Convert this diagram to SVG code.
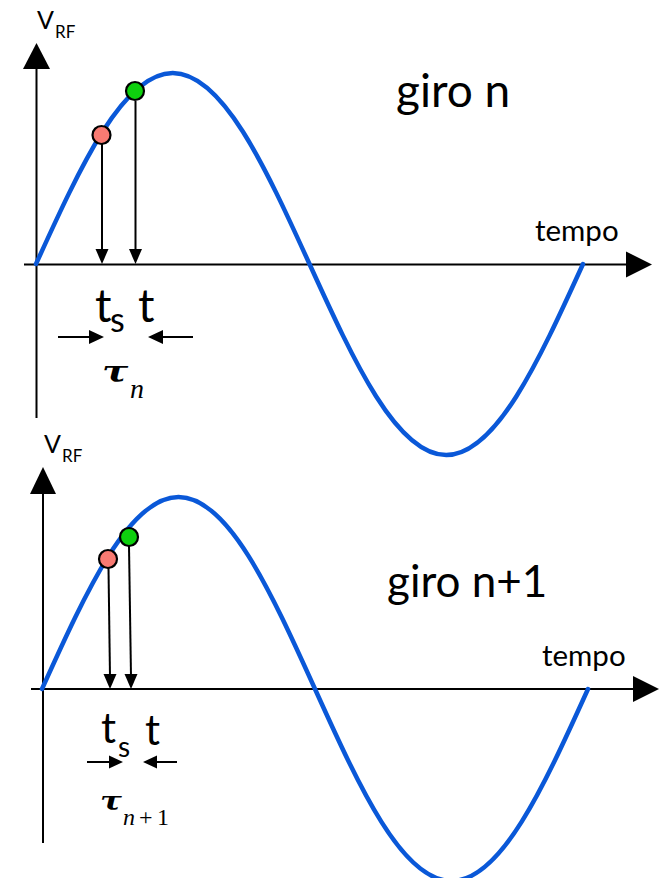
<svg xmlns="http://www.w3.org/2000/svg" width="659" height="878" viewBox="0 0 659 878">
<style>
.ax{stroke:#000;stroke-width:2;fill:none}
.ah{fill:#000}
.wave{stroke:#0a58d8;stroke-width:4.5;fill:none;stroke-linecap:round}
.dr{fill:#f87a72;stroke:#000;stroke-width:2.2}
.dg{fill:#0ed00e;stroke:#000;stroke-width:2.2}
.sans{font-family:Lato,"Open Sans","Liberation Sans",sans-serif;fill:#000}
.tau{font-family:"DejaVu Serif","Liberation Serif",serif;font-style:italic;font-weight:bold;fill:#000}
.mi{font-family:"Liberation Serif","Times New Roman",serif;font-style:italic;fill:#000}
.mr{font-family:"Liberation Serif","Times New Roman",serif;fill:#000}
</style>
<g id="connectors">
<line class="ax" x1="36.5" y1="418" x2="36.5" y2="66"/>
<polygon class="ah" points="36.5,43 23,69 50,69"/>
<line class="ax" x1="24" y1="264.5" x2="628" y2="264.5"/>
<polygon class="ah" points="652,264.5 626,251.5 626,277.5"/>
<line class="ax" x1="102" y1="144" x2="102" y2="252"/>
<polygon class="ah" points="102,264 95.5,249 108.5,249"/>
<line class="ax" x1="135.5" y1="101" x2="135.5" y2="252"/>
<polygon class="ah" points="135.5,264 129,249 142,249"/>
<line class="ax" x1="58" y1="337" x2="92" y2="337"/>
<polygon class="ah" points="104,337 89,330 89,344"/>
<line class="ax" x1="160" y1="337" x2="193" y2="337"/>
<polygon class="ah" points="148,337 163,330 163,344"/>
<line class="ax" x1="43" y1="843" x2="43" y2="490"/>
<polygon class="ah" points="43,467 30,494 56,494"/>
<line class="ax" x1="31" y1="689" x2="634" y2="689"/>
<polygon class="ah" points="659,689 633,676 633,702"/>
<line class="ax" x1="108.5" y1="568" x2="110" y2="677"/>
<polygon class="ah" points="110,689 103.5,674 116.5,674"/>
<line class="ax" x1="129" y1="546" x2="131" y2="677"/>
<polygon class="ah" points="131,689 124.5,674 137.5,674"/>
<line class="ax" x1="87" y1="762" x2="112" y2="762"/>
<polygon class="ah" points="123,762 109,755.5 109,768.5"/>
<line class="ax" x1="154" y1="762" x2="177" y2="762"/>
<polygon class="ah" points="143,762 157,755.5 157,768.5"/>
</g>
<g id="wave-top">
<path class="wave" d="M36,264 C80.6,166.15 123.26,73 172.75,73 S264.9,166.15 309.5,264 S396.76,455 446.25,455 S538.4,361.85 583,264"/>
</g>
<g id="wave-bottom">
<path class="wave" d="M42,689 C86.52,590.64 129.1,497 178.5,497 S270.48,590.64 315,689 S402.1,881 451.5,881 S543.48,787.36 588,689"/>
</g>
<g id="dots-top">
<circle class="dr" cx="101.5" cy="135" r="9"/>
<circle class="dg" cx="135" cy="91" r="9"/>
</g>
<g id="dots-bottom">
<circle class="dr" cx="108" cy="559" r="9"/>
<circle class="dg" cx="129" cy="537" r="9"/>
</g>
<g id="labels-top">
<text class="sans" x="37" y="29" font-size="25">V</text>
<text class="sans" x="55" y="38" font-size="17">RF</text>
<text class="sans" x="535" y="241" font-size="29.5">tempo</text>
<text class="sans" x="396" y="107" font-size="46">giro n</text>
<text class="sans" x="95" y="322" font-size="46">t</text>
<text class="sans" x="110" y="332" font-size="34">s</text>
<text class="sans" x="138" y="322" font-size="46">t</text>
<text class="tau" transform="translate(102,382) scale(1.3,1)" font-size="30">τ</text>
<text class="mi" x="130" y="398" font-size="28">n</text>
</g>
<g id="labels-bottom">
<text class="sans" x="44" y="453" font-size="25">V</text>
<text class="sans" x="62" y="462" font-size="17">RF</text>
<text class="sans" x="542" y="666" font-size="29.5">tempo</text>
<text class="sans" x="387" y="597" font-size="44">giro n+1</text>
<text class="sans" x="101" y="743" font-size="42">t</text>
<text class="sans" x="118" y="757" font-size="28">s</text>
<text class="sans" x="145" y="745" font-size="42">t</text>
<text class="tau" transform="translate(100,810) scale(1.25,1)" font-size="26">τ</text>
<text class="mi" x="123" y="825" font-size="24">n</text>
<text class="mr" x="139" y="825" font-size="24">+</text>
<text class="mr" x="157" y="825" font-size="24">1</text>
</g>
</svg>
